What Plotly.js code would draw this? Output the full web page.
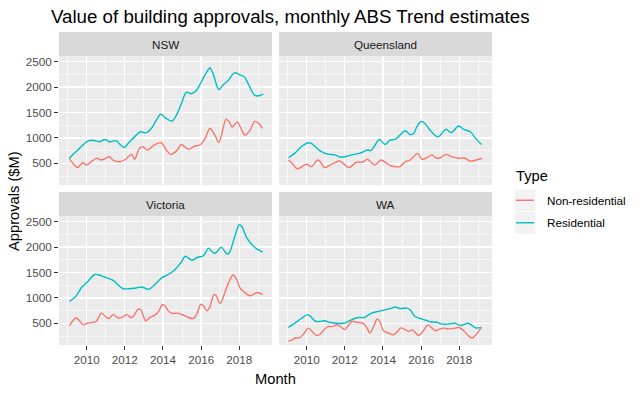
<!DOCTYPE html>
<html>
<head>
<meta charset="utf-8">
<script src="https://cdn.plot.ly/plotly-3.0.1.min.js"></script>
<style>html,body{margin:0;padding:0;background:#fff;}#chart{width:640px;height:393px;}</style>
</head>
<body>
<div id="chart"></div>
<script>
// ---- Data (decimal year, $M) ----
const states = ["NSW", "Queensland", "Victoria", "WA"];
const types = ["Non-residential", "Residential"];
const typeColors = ["#F8766D", "#00BFC4"];
const yTickVals = [500, 1000, 1500, 2000, 2500];
const xTickVals = [2010, 2012, 2014, 2016, 2018];
const xTickText = ["2010", "2012", "2014", "2016", "2018"];

const nswResX = [2009.09,2009.53,2010.05,2010.3,2010.67,2010.96,2011.2,2011.54,2011.7,2011.95,2012.25,2012.6,2012.82,2013.12,2013.39,2013.65,2013.88,2014.18,2014.47,2014.7,2014.96,2015.23,2015.49,2015.75,2016.02,2016.28,2016.46,2016.63,2016.93,2017.16,2017.42,2017.74,2018.04,2018.26,2018.47,2018.82,2019.09,2019.26];
const nswResY = [600,760,935,955,925,970,925,945,890,810,925,1055,1120,1100,1185,1350,1465,1380,1330,1445,1670,1900,1870,1935,2110,2290,2375,2260,1950,2045,2130,2280,2240,2205,2065,1835,1835,1870];
const nswNonX = [2009.09,2009.35,2009.53,2009.79,2010.0,2010.23,2010.5,2010.75,2010.93,2011.19,2011.37,2011.72,2011.98,2012.37,2012.51,2012.77,2012.95,2013.18,2013.53,2013.91,2014.18,2014.4,2014.7,2014.96,2015.14,2015.35,2015.67,2015.93,2016.19,2016.46,2016.72,2016.93,2017.11,2017.3,2017.46,2017.63,2017.89,2018.09,2018.3,2018.56,2018.82,2019.04,2019.21];
const nswNonY = [598,467,415,510,467,530,598,565,585,630,565,530,565,675,578,795,825,760,860,905,760,675,740,870,825,775,840,860,975,1185,1055,910,1120,1365,1325,1215,1315,1185,1055,1150,1325,1280,1185];

const qldResX = [2009.05,2009.37,2009.72,2010.07,2010.25,2010.51,2010.77,2011.12,2011.47,2011.74,2012.0,2012.35,2012.7,2012.91,2013.14,2013.37,2013.58,2013.81,2014.11,2014.37,2014.63,2014.89,2015.16,2015.42,2015.6,2015.77,2016.0,2016.21,2016.47,2016.88,2017.18,2017.3,2017.58,2017.96,2018.23,2018.58,2018.84,2019.16];
const qldResY = [610,695,825,905,890,805,730,680,665,625,630,665,690,715,760,755,855,970,870,955,970,1055,1140,1065,1085,1215,1325,1280,1150,1020,1130,1170,1105,1235,1170,1120,1000,870];
const qldNonX = [2009.05,2009.28,2009.51,2009.81,2010.02,2010.25,2010.56,2010.68,2010.95,2011.21,2011.47,2011.74,2011.91,2012.21,2012.61,2012.91,2013.19,2013.4,2013.58,2013.89,2014.16,2014.37,2014.63,2014.89,2015.16,2015.42,2015.6,2015.82,2016.04,2016.3,2016.56,2016.82,2017.0,2017.3,2017.6,2017.96,2018.3,2018.56,2018.84,2019.19];
const qldNonY = [565,480,390,450,480,435,565,545,415,465,510,545,500,415,520,520,580,510,465,565,510,455,435,435,530,565,630,695,580,610,665,600,610,675,630,600,600,545,560,600];

const vicResX = [2009.1,2009.45,2009.72,2010.07,2010.42,2010.6,2010.95,2011.39,2011.65,2011.91,2012.18,2012.53,2012.88,2013.23,2013.58,2013.93,2014.28,2014.63,2014.95,2015.16,2015.33,2015.54,2015.82,2016.12,2016.39,2016.56,2016.74,2017.05,2017.35,2017.47,2017.79,2018.0,2018.14,2018.4,2018.67,2018.93,2019.23];
const vicResY = [930,1040,1200,1330,1460,1455,1410,1345,1255,1180,1180,1190,1215,1170,1265,1395,1460,1560,1700,1820,1785,1740,1800,1830,1980,1915,1880,1995,1865,1885,2240,2445,2400,2175,2045,1960,1900];
const vicNonX = [2009.1,2009.28,2009.45,2009.63,2009.81,2010.07,2010.33,2010.51,2010.77,2011.04,2011.18,2011.39,2011.65,2011.91,2012.09,2012.32,2012.44,2012.7,2012.84,2013.09,2013.32,2013.58,2013.79,2013.96,2014.1,2014.28,2014.46,2014.77,2015.07,2015.33,2015.6,2015.77,2015.98,2016.12,2016.3,2016.44,2016.68,2016.77,2017.0,2017.18,2017.44,2017.67,2017.79,2018.05,2018.23,2018.58,2018.93,2019.23];
const vicNonY = [455,550,605,550,475,505,520,540,700,615,595,670,605,630,670,615,635,780,765,550,615,660,745,865,845,745,695,700,660,615,595,680,875,845,745,810,1070,1050,890,1040,1300,1450,1415,1190,1125,1040,1105,1070];

const waResX = [2009.04,2009.36,2009.72,2010.03,2010.16,2010.46,2010.77,2010.95,2011.21,2011.56,2011.91,2012.09,2012.44,2012.7,2013.02,2013.4,2013.75,2014.11,2014.46,2014.63,2014.89,2015.25,2015.42,2015.68,2015.95,2016.21,2016.47,2016.82,2017.09,2017.44,2017.79,2018.05,2018.23,2018.46,2018.67,2018.84,2019.16];
const waResY = [420,500,595,670,650,540,540,550,520,500,500,520,585,615,615,700,735,765,800,820,790,800,765,635,595,565,530,520,485,485,500,455,475,500,455,410,420];
const waNonX = [2009.04,2009.26,2009.44,2009.61,2009.84,2010.07,2010.25,2010.51,2010.68,2010.95,2011.12,2011.33,2011.61,2011.82,2012.0,2012.21,2012.39,2012.61,2012.96,2013.14,2013.32,2013.49,2013.7,2013.84,2014.02,2014.28,2014.54,2014.72,2014.95,2015.16,2015.33,2015.54,2015.68,2015.86,2016.12,2016.35,2016.56,2016.74,2016.91,2017.18,2017.44,2017.79,2017.96,2018.23,2018.46,2018.67,2018.84,2019.16];
const waNonY = [150,180,215,210,290,405,355,260,280,390,435,435,470,420,375,470,540,520,500,420,310,420,585,530,355,310,275,325,410,375,345,370,325,260,355,470,410,355,375,405,390,405,420,355,260,210,260,420];

const seriesX = {NSW: [nswNonX, nswResX], Queensland: [qldNonX, qldResX], Victoria: [vicNonX, vicResX], WA: [waNonX, waResX]};
const seriesY = {NSW: [nswNonY, nswResY], Queensland: [qldNonY, qldResY], Victoria: [vicNonY, vicResY], WA: [waNonY, waResY]};

// ---- Layout geometry (pixels) ----
const W = 640, H = 393;
const px = v => v / W;
const py = v => 1 - v / H;
const cols = [[59, 272], [279, 492]];
const rows = [[56, 185], [216, 345]];
const strips = [[32, 56], [192, 216]];
const xRange = [2008.548, 2019.715];
const yRange = [73, 2612];

const traces = [];
const layout = {
  width: W, height: H,
  margin: {l: 0, r: 0, t: 0, b: 0},
  paper_bgcolor: "#FFFFFF",
  plot_bgcolor: "#EBEBEB",
  showlegend: false,
  font: {family: "Liberation Sans, Arial, sans-serif", color: "#4D4D4D"},
  shapes: [],
  annotations: []
};

states.forEach((st, i) => {
  const r = Math.floor(i / 2), c = i % 2;
  const n = i + 1;
  const xa = "xaxis" + (n === 1 ? "" : n), ya = "yaxis" + (n === 1 ? "" : n);
  const xr = "x" + (n === 1 ? "" : n), yr = "y" + (n === 1 ? "" : n);
  types.forEach((t, k) => {
    traces.push({
      type: "scatter", mode: "lines", name: t,
      x: seriesX[st][k], y: seriesY[st][k],
      xaxis: xr, yaxis: yr,
      line: {color: typeColors[k], width: 1.4, shape: "spline", smoothing: 0.9},
      hoverinfo: "x+y+name"
    });
  });
  layout[xa] = {
    domain: [px(cols[c][0]), px(cols[c][1])],
    anchor: yr, range: xRange, zeroline: false,
    showline: false,
    tickmode: "array", tickvals: xTickVals, ticktext: xTickText,
    showticklabels: r === 1, ticks: r === 1 ? "outside" : "",
    ticklen: 4, tickwidth: 1, tickcolor: "#333333",
    tickfont: {size: 11.7, color: "#4D4D4D"},
    showgrid: true, gridcolor: "#FFFFFF", gridwidth: 1.3,
    minor: {tickmode: "linear", tick0: 2009, dtick: 2, showgrid: true, gridcolor: "#FFFFFF", gridwidth: 0.6}
  };
  layout[ya] = {
    domain: [py(rows[r][1]), py(rows[r][0])],
    anchor: xr, range: yRange, zeroline: false,
    showline: false,
    tickmode: "array", tickvals: yTickVals,
    showticklabels: c === 0, ticks: c === 0 ? "outside" : "",
    ticklen: 4, tickwidth: 1, tickcolor: "#333333",
    tickfont: {size: 11.7, color: "#4D4D4D"},
    showgrid: true, gridcolor: "#FFFFFF", gridwidth: 1.3,
    minor: {tickmode: "linear", tick0: 250, dtick: 500, showgrid: true, gridcolor: "#FFFFFF", gridwidth: 0.6}
  };
  // strip
  layout.shapes.push({type: "rect", xref: "paper", yref: "paper", layer: "below",
    x0: px(cols[c][0]), x1: px(cols[c][1]), y0: py(strips[r][1]), y1: py(strips[r][0]),
    fillcolor: "#D9D9D9", line: {width: 0}});
  layout.annotations.push({xref: "paper", yref: "paper", showarrow: false,
    x: px((cols[c][0] + cols[c][1]) / 2), y: py((strips[r][0] + strips[r][1]) / 2),
    xanchor: "center", yanchor: "middle", text: st,
    font: {size: 11.7, color: "#1A1A1A"}});
});

// title and axis titles
layout.annotations.push({xref: "paper", yref: "paper", showarrow: false, x: px(49), y: py(16),
  xanchor: "left", yanchor: "middle", text: "Value of building approvals, monthly ABS Trend estimates",
  font: {size: 18.7, color: "#000000"}});
layout.annotations.push({xref: "paper", yref: "paper", showarrow: false, x: px(275.5), y: py(379),
  xanchor: "center", yanchor: "middle", text: "Month", font: {size: 14.7, color: "#000000"}});
layout.annotations.push({xref: "paper", yref: "paper", showarrow: false, x: px(14), y: py(201),
  xanchor: "center", yanchor: "middle", text: "Approvals ($M)", textangle: -90,
  font: {size: 14.7, color: "#000000"}});

// legend (drawn like ggplot's)
layout.annotations.push({xref: "paper", yref: "paper", showarrow: false, x: px(514), y: py(176),
  xanchor: "left", yanchor: "middle", text: "Type", font: {size: 14.7, color: "#000000"}});
const keyTops = [189, 211.5];
types.forEach((t, k) => {
  const y0 = keyTops[k], y1 = y0 + 22.5, ym = (y0 + y1) / 2;
  layout.shapes.push({type: "rect", xref: "paper", yref: "paper",
    x0: px(514), x1: px(536), y0: py(y1), y1: py(y0),
    fillcolor: "#F2F2F2", line: {color: "#FFFFFF", width: 1}});
  layout.shapes.push({type: "line", xref: "paper", yref: "paper",
    x0: px(516), x1: px(534), y0: py(ym), y1: py(ym),
    line: {color: typeColors[k], width: 1.4}});
  layout.annotations.push({xref: "paper", yref: "paper", showarrow: false, x: px(545), y: py(ym),
    xanchor: "left", yanchor: "middle", text: t, font: {size: 11.7, color: "#000000"}});
});

Plotly.newPlot("chart", traces, layout, {displayModeBar: false, staticPlot: true});
</script>
</body>
</html>
